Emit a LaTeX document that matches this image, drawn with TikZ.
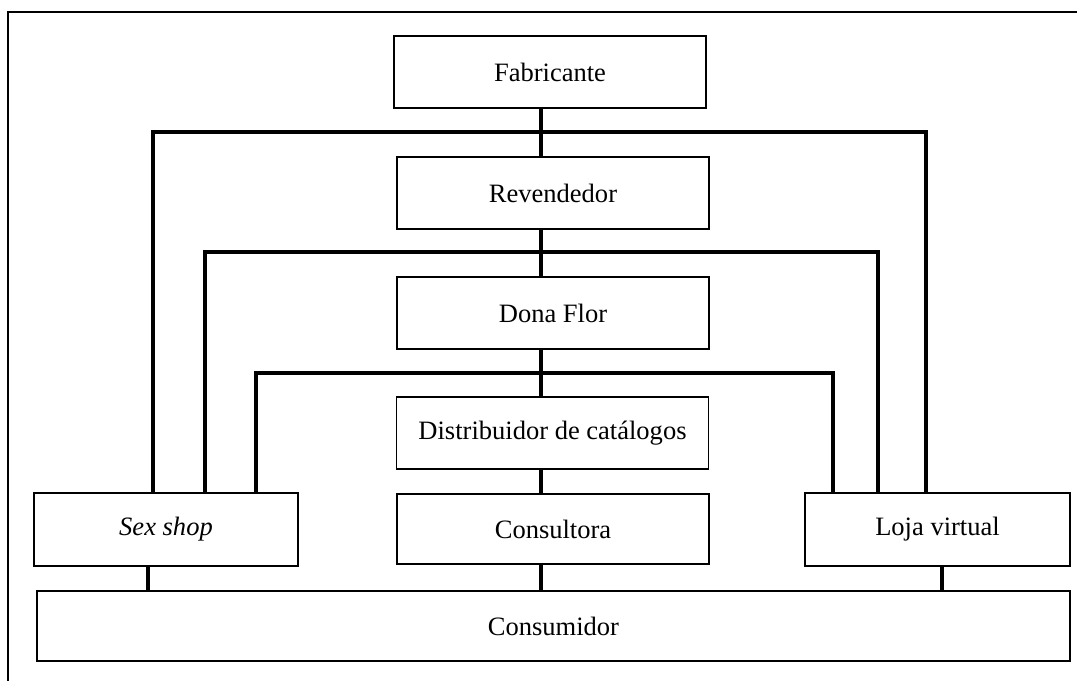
\documentclass[tikz,border=0pt]{standalone}
\usepackage{fontspec}
\setmainfont{Liberation Serif}

\tikzset{
  box/.style={draw, line width=0.8pt, rectangle, inner sep=0pt,
    minimum width=141.2pt, minimum height=32.6pt},
  link/.style={line width=1.9pt},
}

\begin{document}
\begin{tikzpicture}[x=0.4525pt,y=-0.4525pt,font=\fontsize{12}{14}\selectfont]

\useasboundingbox (0,0) rectangle (1077,680);
\draw[line width=0.8pt] (8,12) rectangle (1090,695);

% column
\node[box] (fab) at (550,72) {Fabricante};
\node[box] (rev) at (553,193) {Revendedor};
\node[box] (dona) at (553,313) {Dona Flor};
\node[box] (dist) at (552.5,433) {Distribuidor de catálogos};
\node[box, minimum height=31.7pt] (cons) at (553,529) {Consultora};

% sides
\node[box, minimum width=119.5pt, minimum height=33pt] (sex) at (166,529.5) {\textit{Sex shop}};
\node[box, minimum width=120pt, minimum height=33pt] (loja) at (937.5,529.5) {Loja virtual};
\node[box, minimum width=467.4pt, minimum height=31.7pt] (consum) at (553.5,626) {Consumidor};

% connectors
\coordinate (axis) at (541,0);
\draw[link] (fab.south -| axis) -- (rev.north -| axis);
\draw[link] (rev.south -| axis) -- (dona.north -| axis);
\draw[link] (dona.south -| axis) -- (dist.north -| axis);
\draw[link] (dist.south -| axis) -- (cons.north -| axis);
\draw[link] (cons.south -| axis) -- (consum.north -| axis);

\coordinate (b1w) at (153,132);
\coordinate (b1e) at (926,132);
\coordinate (b2w) at (205,252);
\coordinate (b2e) at (878,252);
\coordinate (b3w) at (256,373);
\coordinate (b3e) at (833,373);
\draw[link] (sex.north -| b1w) -- (b1w) -- (b1e) -- (loja.north -| b1e);
\draw[link] (sex.north -| b2w) -- (b2w) -- (b2e) -- (loja.north -| b2e);
\draw[link] (sex.north -| b3w) -- (b3w) -- (b3e) -- (loja.north -| b3e);

\coordinate (sl) at (148,0);
\coordinate (ll) at (942,0);
\draw[link] (sex.south -| sl) -- (consum.north -| sl);
\draw[link] (loja.south -| ll) -- (consum.north -| ll);

\end{tikzpicture}
\end{document}
